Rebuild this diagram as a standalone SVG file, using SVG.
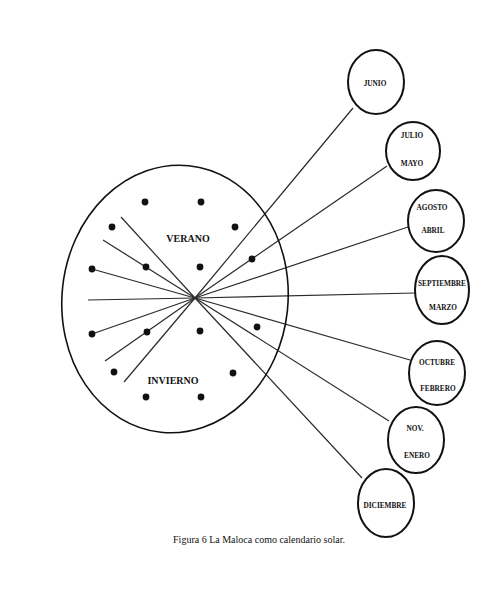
<svg xmlns="http://www.w3.org/2000/svg" width="485" height="592" viewBox="0 0 485 592">
<style>
.ray{stroke:#2a2a2a;stroke-width:1.2;fill:none}
.month{fill:none;stroke:#111;stroke-width:2}
.dot{fill:#111}
.lbl{font-family:"Liberation Serif",serif;font-weight:bold;font-size:7.3px;fill:#111;text-anchor:middle}
.season{font-family:"Liberation Serif",serif;font-weight:bold;font-size:10px;fill:#111;text-anchor:middle}
.cap{font-family:"Liberation Serif",serif;font-size:10px;fill:#111;text-anchor:middle}
</style>
<rect width="485" height="592" fill="#fff"/>
<g id="connectors">
<line class="ray" x1="195" y1="298" x2="121" y2="217"/>
<line class="ray" x1="195" y1="298" x2="103" y2="240"/>
<line class="ray" x1="195" y1="298" x2="92" y2="269"/>
<line class="ray" x1="195" y1="298" x2="88" y2="300"/>
<line class="ray" x1="195" y1="298" x2="92" y2="334"/>
<line class="ray" x1="195" y1="298" x2="105" y2="361"/>
<line class="ray" x1="195" y1="298" x2="124" y2="382"/>
<line class="ray" x1="195" y1="298" x2="353" y2="108"/>
<line class="ray" x1="195" y1="298" x2="387" y2="166"/>
<line class="ray" x1="195" y1="298" x2="408" y2="227"/>
<line class="ray" x1="195" y1="298" x2="415" y2="293"/>
<line class="ray" x1="195" y1="298" x2="410" y2="360"/>
<line class="ray" x1="195" y1="298" x2="389" y2="421"/>
<line class="ray" x1="195" y1="298" x2="362" y2="478"/>
</g>
<g id="maloca">
<ellipse cx="175" cy="299" rx="113" ry="134" fill="none" stroke="#111" stroke-width="1.6" transform="rotate(6 175 299)"/>
<circle class="dot" cx="145" cy="202" r="3.4"/>
<circle class="dot" cx="201" cy="202" r="3.4"/>
<circle class="dot" cx="112" cy="227" r="3.4"/>
<circle class="dot" cx="235" cy="227" r="3.4"/>
<circle class="dot" cx="92" cy="269" r="3.4"/>
<circle class="dot" cx="146" cy="267" r="3.4"/>
<circle class="dot" cx="200" cy="267" r="3.4"/>
<circle class="dot" cx="252" cy="259" r="3.4"/>
<circle class="dot" cx="92" cy="334" r="3.4"/>
<circle class="dot" cx="147" cy="332" r="3.4"/>
<circle class="dot" cx="200" cy="331" r="3.4"/>
<circle class="dot" cx="257" cy="327" r="3.4"/>
<circle class="dot" cx="114" cy="372" r="3.4"/>
<circle class="dot" cx="233" cy="373" r="3.4"/>
<circle class="dot" cx="146" cy="397" r="3.4"/>
<circle class="dot" cx="201" cy="397" r="3.4"/>
<text class="season" x="188" y="242">VERANO</text>
<text class="season" x="173" y="384">INVIERNO</text>
</g>
<g id="junio">
<ellipse class="month" cx="376" cy="82" rx="28" ry="32"/>
<text class="lbl" x="375" y="86">JUNIO</text>
</g>
<g id="julio-mayo">
<ellipse class="month" cx="413" cy="151" rx="27" ry="29"/>
<text class="lbl" x="412" y="138">JULIO</text>
<text class="lbl" x="412" y="166">MAYO</text>
</g>
<g id="agosto-abril">
<ellipse class="month" cx="436" cy="221" rx="28" ry="31"/>
<text class="lbl" x="432" y="210">AGOSTO</text>
<text class="lbl" x="433" y="233">ABRIL</text>
</g>
<g id="septiembre-marzo">
<ellipse class="month" cx="442" cy="290" rx="27" ry="34"/>
<text class="lbl" x="442" y="286">SEPTIEMBRE</text>
<text class="lbl" x="443" y="310">MARZO</text>
</g>
<g id="octubre-febrero">
<ellipse class="month" cx="437" cy="373" rx="28" ry="32"/>
<text class="lbl" x="437" y="365">OCTUBRE</text>
<text class="lbl" x="438" y="391">FEBRERO</text>
</g>
<g id="nov-enero">
<ellipse class="month" cx="416" cy="440" rx="28" ry="33"/>
<text class="lbl" x="415" y="431">NOV.</text>
<text class="lbl" x="417" y="458">ENERO</text>
</g>
<g id="diciembre">
<ellipse class="month" cx="386" cy="503" rx="28" ry="34"/>
<text class="lbl" x="385" y="508">DICIEMBRE</text>
</g>
<text class="cap" x="259" y="543">Figura 6  La Maloca como calendario solar.</text>
</svg>
